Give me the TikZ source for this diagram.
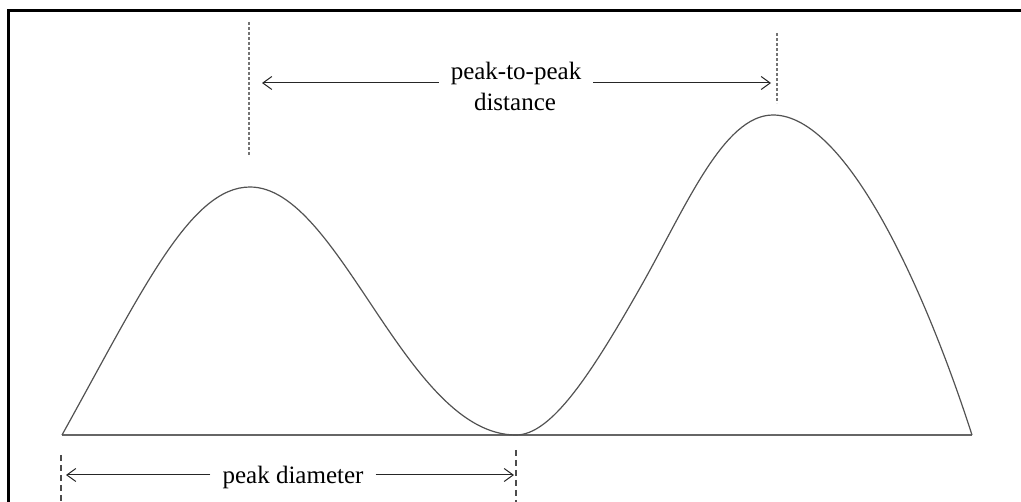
\documentclass[tikz,border=0pt]{standalone}
\usepackage{fontspec}
\setmainfont{Liberation Serif}
\usetikzlibrary{arrows.meta}
\begin{document}
\begin{tikzpicture}[x=1pt,y=-1pt,
  frame/.style={line width=3pt, line join=miter},
  curve/.style={draw=black!68, line width=1.2pt, line join=round},
  baseline/.style={draw=black!60, line width=1.6pt},
  fine dash/.style={draw=black!55, line width=1.2pt, dash pattern=on 3pt off 2pt},
  long dash/.style={draw=black!70, line width=1.1pt, dash pattern=on 6pt off 4pt},
  arr/.style={draw=black!85, line width=1pt, -{Straight Barb[length=9pt,width=13pt,line width=1pt]}},
  lbl/.style={font=\fontsize{25}{30}\selectfont, inner xsep=12pt, inner ysep=0pt, text=black}]
\clip (0,0) rectangle (1021,502);
% frame (only top and left edges visible)
\draw[frame] (8.5,540) -- (8.5,11) -- (1060,11);
% baseline
\coordinate (b0) at (62,435);
\coordinate (b1) at (972,435);
\draw[baseline] (b0) -- (b1);
% curve
\coordinate (p1) at (250,187);
\coordinate (v)  at (516,435);
\coordinate (q)  at (640,288);
\coordinate (p2) at (773,115);
\draw[curve] (b0) .. controls (142,291) and (190,187) .. (p1)
  .. controls (340,187) and (406,435) .. (v)
  .. controls (551,435) and (590,376) .. (q)
  .. controls (685,208.8) and (723,115) .. (p2)
  .. controls (848,115) and (927,295.5) .. (b1);
% dashed guide lines
\coordinate (d1a) at (249,22);  \coordinate (d1b) at (249,155);
\coordinate (d2a) at (777,33);  \coordinate (d2b) at (777,103);
\coordinate (d3a) at (61,455);  \coordinate (d3b) at (61,505);
\coordinate (d4a) at (516,450); \coordinate (d4b) at (516,505);
\draw[fine dash] (d1a) -- (d1b);
\draw[fine dash] (d2a) -- (d2b);
\draw[long dash] (d3a) -- (d3b);
\draw[long dash] (d4a) -- (d4b);
% labels
\node[lbl, anchor=base] (ptp) at (516,80) {peak-to-peak};
\node[lbl, anchor=base] (dist) at (515,111) {distance};
\node[lbl, anchor=base] (pd) at (293,484) {peak diameter};
% arrow tips
\coordinate (t1) at (262,83);
\coordinate (t2) at (771,83);
\coordinate (t3) at (66,475);
\coordinate (t4) at (514,475);
\draw[arr] (ptp.west |- t1) -- (t1);
\draw[arr] (ptp.east |- t2) -- (t2);
\draw[arr] (pd.west |- t3) -- (t3);
\draw[arr] (pd.east |- t4) -- (t4);
\end{tikzpicture}
\end{document}
